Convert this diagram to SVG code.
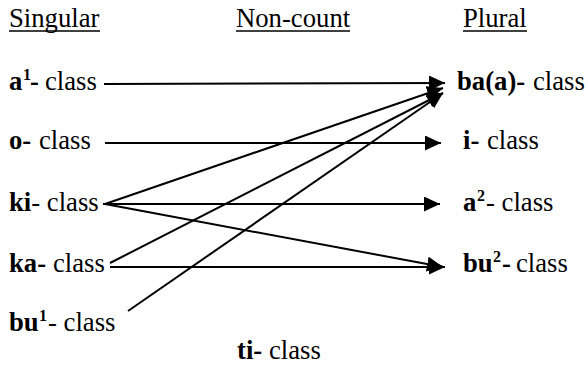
<svg xmlns="http://www.w3.org/2000/svg" width="588" height="366" viewBox="0 0 588 366">
<style>
text{font-family:'Liberation Serif','Times New Roman',serif;font-size:26.7px;fill:#000}
text.b{font-weight:bold}
text.sup{font-weight:bold;font-size:16px}
.ul{stroke:#000;stroke-width:1.3}
.c{stroke:#000;stroke-width:2;fill:none;marker-end:url(#ah)}
.n{stroke:#000;stroke-width:2;fill:none}
</style>
<defs>
<marker id="ah" markerUnits="userSpaceOnUse" markerWidth="18" markerHeight="16" refX="16" refY="7.5" orient="auto">
<path d="M0,0 L16,7.5 L0,15 z" fill="#000"/>
</marker>
</defs>
<g id="headers">
<text x="9" y="27">Singular</text><line class="ul" x1="9" y1="31" x2="100" y2="31"/>
<text x="236" y="27">Non-count</text><line class="ul" x1="236" y1="31" x2="350" y2="31"/>
<text x="463" y="27">Plural</text><line class="ul" x1="463" y1="31" x2="527" y2="31"/>
</g>
<g id="a1"><text class="b" x="9" y="90">a</text><text class="sup" x="23" y="80">1</text><text class="b" x="30" y="90">-</text><text x="45" y="90">class</text></g>
<g id="o"><text class="b" x="9" y="149">o-</text><text x="39" y="149">class</text></g>
<g id="ki"><text class="b" x="9" y="211">ki</text><text x="31.3" y="211">- class</text></g>
<g id="ka"><text class="b" x="9" y="272">ka-</text><text x="53" y="272">class</text></g>
<g id="bu1"><text class="b" x="9" y="331">bu</text><text class="sup" x="39" y="321">1</text><text x="48" y="331">- class</text></g>
<g id="ti"><text class="b" x="237" y="359">ti-</text><text x="269" y="359">class</text></g>
<g id="baa"><text class="b" x="457" y="90">ba(a)-</text><text x="533" y="90">class</text></g>
<g id="i"><text class="b" x="463" y="149">i-</text><text x="487" y="149">class</text></g>
<g id="a2"><text class="b" x="463" y="211">a</text><text class="sup" x="477" y="201">2</text><text x="486" y="211">- class</text></g>
<g id="bu2"><text class="b" x="463" y="272">bu</text><text class="sup" x="493" y="262">2</text><text class="b" x="502" y="272">-</text><text x="516" y="272">class</text></g>
<g id="connectors">
<line class="c" x1="104" y1="84" x2="445" y2="83"/>
<line class="c" x1="105" y1="143" x2="441" y2="143"/>
<line class="n" x1="103" y1="204" x2="107" y2="204"/>
<line class="c" x1="105" y1="204" x2="443" y2="88"/>
<line class="c" x1="105" y1="204" x2="440" y2="204"/>
<line class="c" x1="105" y1="204" x2="443" y2="267"/>
<line class="c" x1="110" y1="263" x2="443" y2="93"/>
<line class="c" x1="110" y1="267" x2="445" y2="267"/>
<line class="c" x1="128" y1="311" x2="443" y2="93"/>
</g>
</svg>
